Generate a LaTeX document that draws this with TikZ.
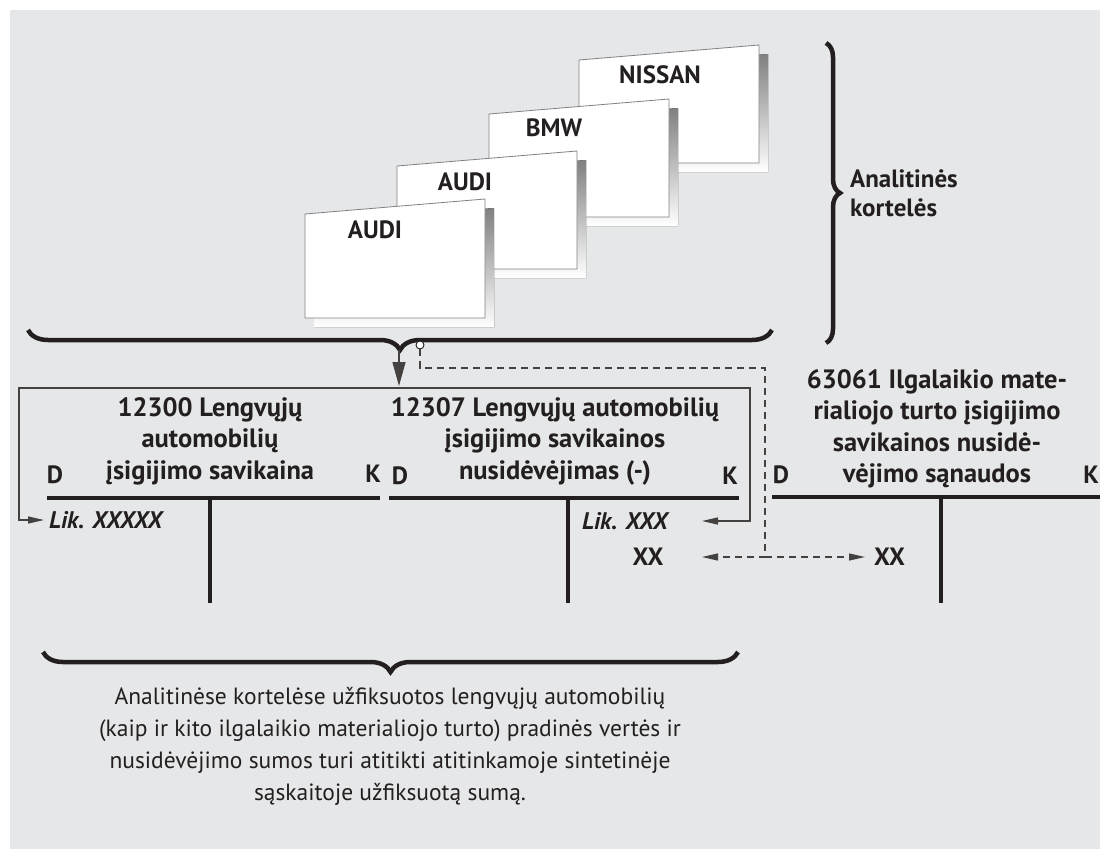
\documentclass[tikz,border=0pt]{standalone}
\usepackage{fontspec}
\setmainfont{PT Sans}
\usetikzlibrary{arrows.meta,decorations.pathreplacing}
\definecolor{bg}{HTML}{E6E7E8}
\definecolor{ink}{HTML}{231F20}
\definecolor{shade}{HTML}{A7A9AC}
\definecolor{edge}{HTML}{808285}
\newcommand\mycard[3]{%
  \fill[shade] ({#1+9},{#2+9}) -- ({#1+189},{#2-6}) -- ({#1+189},{#3+9}) -- ({#1+9},{#3+9}) -- cycle;
  \filldraw[fill=white,draw=edge,line width=0.8pt] (#1,#2) -- ({#1+180},{#2-15}) -- ({#1+180},#3) -- (#1,#3) -- cycle;
}
\begin{document}
\begin{tikzpicture}[x=1pt,y=-1pt,
  title/.style={font=\fontsize{26.5}{31.5}\selectfont\bfseries, text=ink, align=center, inner sep=0pt},
  lbl/.style={font=\fontsize{25}{29}\selectfont\bfseries, text=ink, inner sep=0pt},
  lik/.style={font=\fontsize{24}{28}\selectfont\bfseries\itshape, text=ink, inner sep=0pt},
  body/.style={font=\fontsize{23.5}{32}\selectfont, text=ink, align=center, inner sep=0pt},
  tline/.style={line width=4.5pt, draw=ink},
  brc/.style={decorate, decoration={brace, amplitude=#1}, line width=4.5pt, draw=ink},
  conn/.style={line width=1.2pt, draw=ink!85},
  dsh/.style={conn, dash pattern=on 7pt off 5pt},
  >={Triangle[length=16pt,width=7pt]}
]
\useasboundingbox (0,0) rectangle (1100,849);
\fill[bg] (10,10) rectangle (1100,849);

% cards
\mycard{579}{60}{163}
\mycard{489}{114}{217}
\mycard{397}{166}{269}
\mycard{305}{214}{318}
\node[lbl] (cn) at (660,75) {NISSAN};
\node[lbl] (cb) at (554,128) {BMW};
\node[lbl] (ca2) at (465,182) {AUDI};
\node[lbl] (ca1) at (375,230) {AUDI};

% right brace
\draw[brc=14pt] (826,43) -- (826,343);
\node[lbl, align=left, anchor=west] (ak) at (850,193) {Analitinės\\kortelės};

% top brace
\draw[brc=20pt] (772,330) -- (28,330);
\coordinate (bt) at (399,350);
\coordinate (bxt) at (399,386);
\draw[conn, -{Triangle[length=24pt,width=13pt]}] (bt) -- (bxt);

% thin connector
\coordinate (bl) at (19,388);
\coordinate (br) at (750,388);
\coordinate (a1) at (44,520);
\coordinate (a2) at (702,521);
\draw[conn,<->] (a1) -| (bl) -- (br) |- (a2);

% dashed connector
\node[circle, draw=ink, fill=white, minimum size=8pt, inner sep=0pt, line width=0.9pt] (dc) at (420,345) {};
\coordinate (d1) at (765,368);
\coordinate (d2) at (765,557);
\coordinate (a3) at (702,557);
\coordinate (a4) at (865,557);
\draw[dsh,->] (dc.south) |- (d1) -- (d2) -- (a3);
\draw[dsh,->] (d2) -- (a4);

% account 1
\draw[tline] (47,498) -- (380,498);
\draw[tline] (210,498) -- (210,603);
\node[title] (t1) at (210,441) {12300 Lengvųjų\\automobilių\\įsigijimo savikaina};
\node[lbl] (d1l) at (55,475) {D};
\node[lbl] (k1l) at (373,474) {K};
\node[lik, anchor=west] (l1) at (49,520) {Lik. XXXXX};

% account 2
\draw[tline] (389,498) -- (739,498);
\draw[tline] (568,498) -- (568,603);
\node[title] (t2) at (555,441) {12307 Lengvųjų automobilių\\įsigijimo savikainos\\nusidėvėjimas (-)};
\node[lbl] (d2l) at (400,476) {D};
\node[lbl] (k2l) at (730,476) {K};
\node[lik, anchor=west] (l2) at (582,521) {Lik. XXX};
\node[lbl] (x2) at (648,557) {XX};

% account 3
\draw[tline] (772,497) -- (1100,497);
\draw[tline] (941,497) -- (941,603);
\node[title] (t3) at (937,429) {63061 Ilgalaikio mate-\\rialiojo turto įsigijimo\\savikainos nusidė-\\vėjimo sąnaudos};
\node[lbl] (d3l) at (781,475) {D};
\node[lbl] (k3l) at (1091,475) {K};
\node[lbl, anchor=west] (x3) at (874,557) {XX};

% bottom brace and text
\draw[brc=20pt] (738,652) -- (43,652);
\node[body] (txt) at (390,746) {Analitinėse kortelėse užfiksuotos lengvųjų automobilių\\(kaip ir kito ilgalaikio materialiojo turto) pradinės vertės ir\\nusidėvėjimo sumos turi atitikti atitinkamoje sintetinėje\\sąskaitoje užfiksuotą sumą.};
\end{tikzpicture}
\end{document}
